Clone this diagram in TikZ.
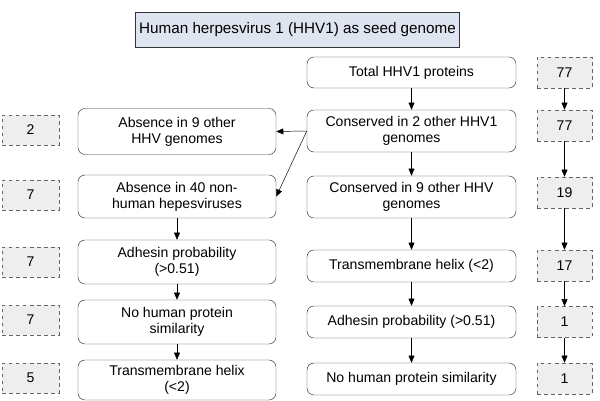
\documentclass[tikz,border=0pt]{standalone}
\usepackage{fontspec}
\setmainfont{Liberation Sans}
\usetikzlibrary{arrows.meta}
\definecolor{titlefill}{RGB}{222,228,240}
\definecolor{countfill}{RGB}{238,238,238}
\tikzset{
  stepbox/.style={draw=black!80,rounded corners=6pt,align=center,font=\fontsize{12}{13.5}\selectfont,inner sep=1pt},
  countbox/.style={draw=black!60,dashed,fill=countfill,font=\fontsize{12}{13}\selectfont},
  arr/.style={-{Triangle[length=6pt,width=5pt]}}
}
\begin{document}
\begin{tikzpicture}[x=0.03cm,y=-0.03cm]
\useasboundingbox (0,0) rectangle (600,401);
% title
\node[draw=black!80,fill=titlefill,minimum width=299*0.03cm,minimum height=35*0.03cm,font=\fontsize{13}{15}\selectfont] (title) at (297.5,29.5) {Human herpesvirus 1 (HHV1) as seed genome};
% right column
\node[stepbox,minimum width=209*0.03cm,minimum height=31*0.03cm] (total) at (411.5,72.5) {Total HHV1 proteins};
\node[stepbox,minimum width=209*0.03cm,minimum height=42*0.03cm] (cons2) at (411.5,131) {Conserved in 2 other HHV1\\genomes};
\node[stepbox,minimum width=209*0.03cm,minimum height=42*0.03cm] (cons9) at (411.5,197) {Conserved in 9 other HHV\\genomes};
\node[stepbox,minimum width=209*0.03cm,minimum height=32*0.03cm] (tmR) at (411.5,266) {Transmembrane helix (<2)};
\node[stepbox,minimum width=209*0.03cm,minimum height=32*0.03cm] (adhR) at (411.5,322) {Adhesin probability (>0.51)};
\node[stepbox,minimum width=209*0.03cm,minimum height=32*0.03cm] (humR) at (411.5,379) {No human protein similarity};
\foreach \a/\b in {total/cons2,cons2/cons9,cons9/tmR,tmR/adhR,adhR/humR}
  \draw[arr] (\a) -- (\b);
% right counts
\node[countbox,minimum width=55*0.03cm,minimum height=31*0.03cm] (cR1) at (564.5,72.5) {77};
\node[countbox,minimum width=55*0.03cm,minimum height=31*0.03cm] (cR2) at (564.5,125.5) {77};
\node[countbox,minimum width=55*0.03cm,minimum height=31*0.03cm] (cR3) at (564.5,192.5) {19};
\node[countbox,minimum width=55*0.03cm,minimum height=31*0.03cm] (cR4) at (564.5,265.5) {17};
\node[countbox,minimum width=55*0.03cm,minimum height=31*0.03cm] (cR5) at (564.5,322) {1};
\node[countbox,minimum width=55*0.03cm,minimum height=31*0.03cm] (cR6) at (564.5,378.5) {1};
\foreach \a/\b in {cR1/cR2,cR2/cR3,cR3/cR4,cR4/cR5,cR5/cR6}
  \draw[arr] (\a) -- (\b);
% left column
\node[stepbox,minimum width=198*0.03cm,minimum height=46*0.03cm] (abs9) at (177,131.5) {Absence in 9 other\\HHV genomes};
\node[stepbox,minimum width=198*0.03cm,minimum height=43*0.03cm] (abs40) at (177,196.5) {Absence in 40 non-\\human hepesviruses};
\node[stepbox,minimum width=198*0.03cm,minimum height=44*0.03cm] (adhL) at (177,262) {Adhesin probability\\(>0.51)};
\node[stepbox,minimum width=198*0.03cm,minimum height=44*0.03cm] (humL) at (177,322) {No human protein\\similarity};
\node[stepbox,minimum width=198*0.03cm,minimum height=40*0.03cm] (tmL) at (177,380) {Transmembrane helix\\(<2)};
\foreach \a/\b in {abs40/adhL,adhL/humL,humL/tmL}
  \draw[arr] (\a) -- (\b);
\draw[arr] (cons2.west) -- (abs9.east);
\draw[arr] (cons2.west) -- (abs40.east);
% left counts
\node[countbox,minimum width=57*0.03cm,minimum height=30*0.03cm] (cL1) at (30.5,130) {2};
\node[countbox,minimum width=57*0.03cm,minimum height=30*0.03cm] (cL2) at (30.5,195) {7};
\node[countbox,minimum width=57*0.03cm,minimum height=30*0.03cm] (cL3) at (30.5,262) {7};
\node[countbox,minimum width=57*0.03cm,minimum height=30*0.03cm] (cL4) at (30.5,320) {7};
\node[countbox,minimum width=57*0.03cm,minimum height=30*0.03cm] (cL5) at (30.5,378) {5};
\end{tikzpicture}
\end{document}
